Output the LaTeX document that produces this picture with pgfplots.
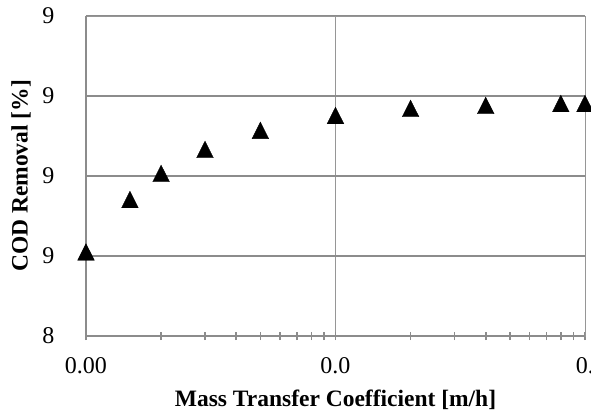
\documentclass[border=0pt]{standalone}
\usepackage{fontspec}
\setmainfont{Liberation Serif}
\usepackage{pgfplots}
\pgfplotsset{compat=1.18}

\definecolor{axgray}{RGB}{140,140,140}
\definecolor{gridthin}{RGB}{150,150,150}

\begin{document}
\begin{tikzpicture}
\begin{axis}[
  at={(0,0)}, anchor=south west,
  scale only axis,
  width=499bp, height=320bp,
  xmode=log, log basis x=10,
  xmin=0.001, xmax=0.1,
  ymin=80, ymax=100,
  clip=false,
  axis line style={draw=gridthin, line width=0.8bp},
  % x axis: decades labelled, minor ticks crossing the axis
  xtick={0.001,0.01,0.1},
  xticklabels={0.00,0.0,0.},
  minor xtick={0.002,0.003,0.004,0.005,0.006,0.007,0.008,0.009,
               0.02,0.03,0.04,0.05,0.06,0.07,0.08,0.09},
  xtick pos=bottom,
  tick align=center,
  major tick length=8bp,
  minor tick length=8bp,
  xtick style={draw=axgray, line width=1.6bp},
  minor x tick style={draw=axgray, line width=1.6bp},
  xmajorgrids,
  major x grid style={draw=gridthin, line width=0.8bp},
  % y axis: grid lines only
  ytick={80,85,90,95,100},
  yticklabels={8,9,9,9,9},
  ytick style={draw=none},
  ymajorgrids,
  major y grid style={draw=axgray, line width=2.4bp},
  /pgf/number format/assume math mode=true,
  ticklabel style={font=\fontsize{24bp}{28bp}\selectfont, text=black},
  xticklabel style={yshift=-14bp},
  yticklabel style={xshift=-24bp},
  label style={font=\fontsize{23.5bp}{28bp}\selectfont\bfseries},
  xlabel={Mass Transfer Coefficient [m/h]},
  ylabel={COD Removal [\%]},
  xlabel style={at={(axis description cs:0.5,-0.2)}, anchor=center},
  ylabel style={at={(axis description cs:-0.1303,0.5)}, anchor=center},
]
  % heavy left and bottom axis lines, beneath the markers
  \draw[axgray, line width=2.4bp] (rel axis cs:0,1) -- (rel axis cs:0,0) -- (rel axis cs:1,0);

  \addplot[only marks, mark=triangle*, mark size=9.6bp,
           mark options={fill=black, draw=black, yscale=1.15, yshift=-2.8bp}]
    coordinates {
      (0.001,  85.28)
      (0.0015, 88.56)
      (0.002,  90.19)
      (0.003,  91.69)
      (0.005,  92.88)
      (0.01,   93.81)
      (0.02,   94.25)
      (0.04,   94.44)
      (0.08,   94.56)
      (0.1,    94.56)
    };
\end{axis}
\pgfresetboundingbox
\path (-86bp,-81bp) rectangle (505bp,336bp);
\end{tikzpicture}
\end{document}
